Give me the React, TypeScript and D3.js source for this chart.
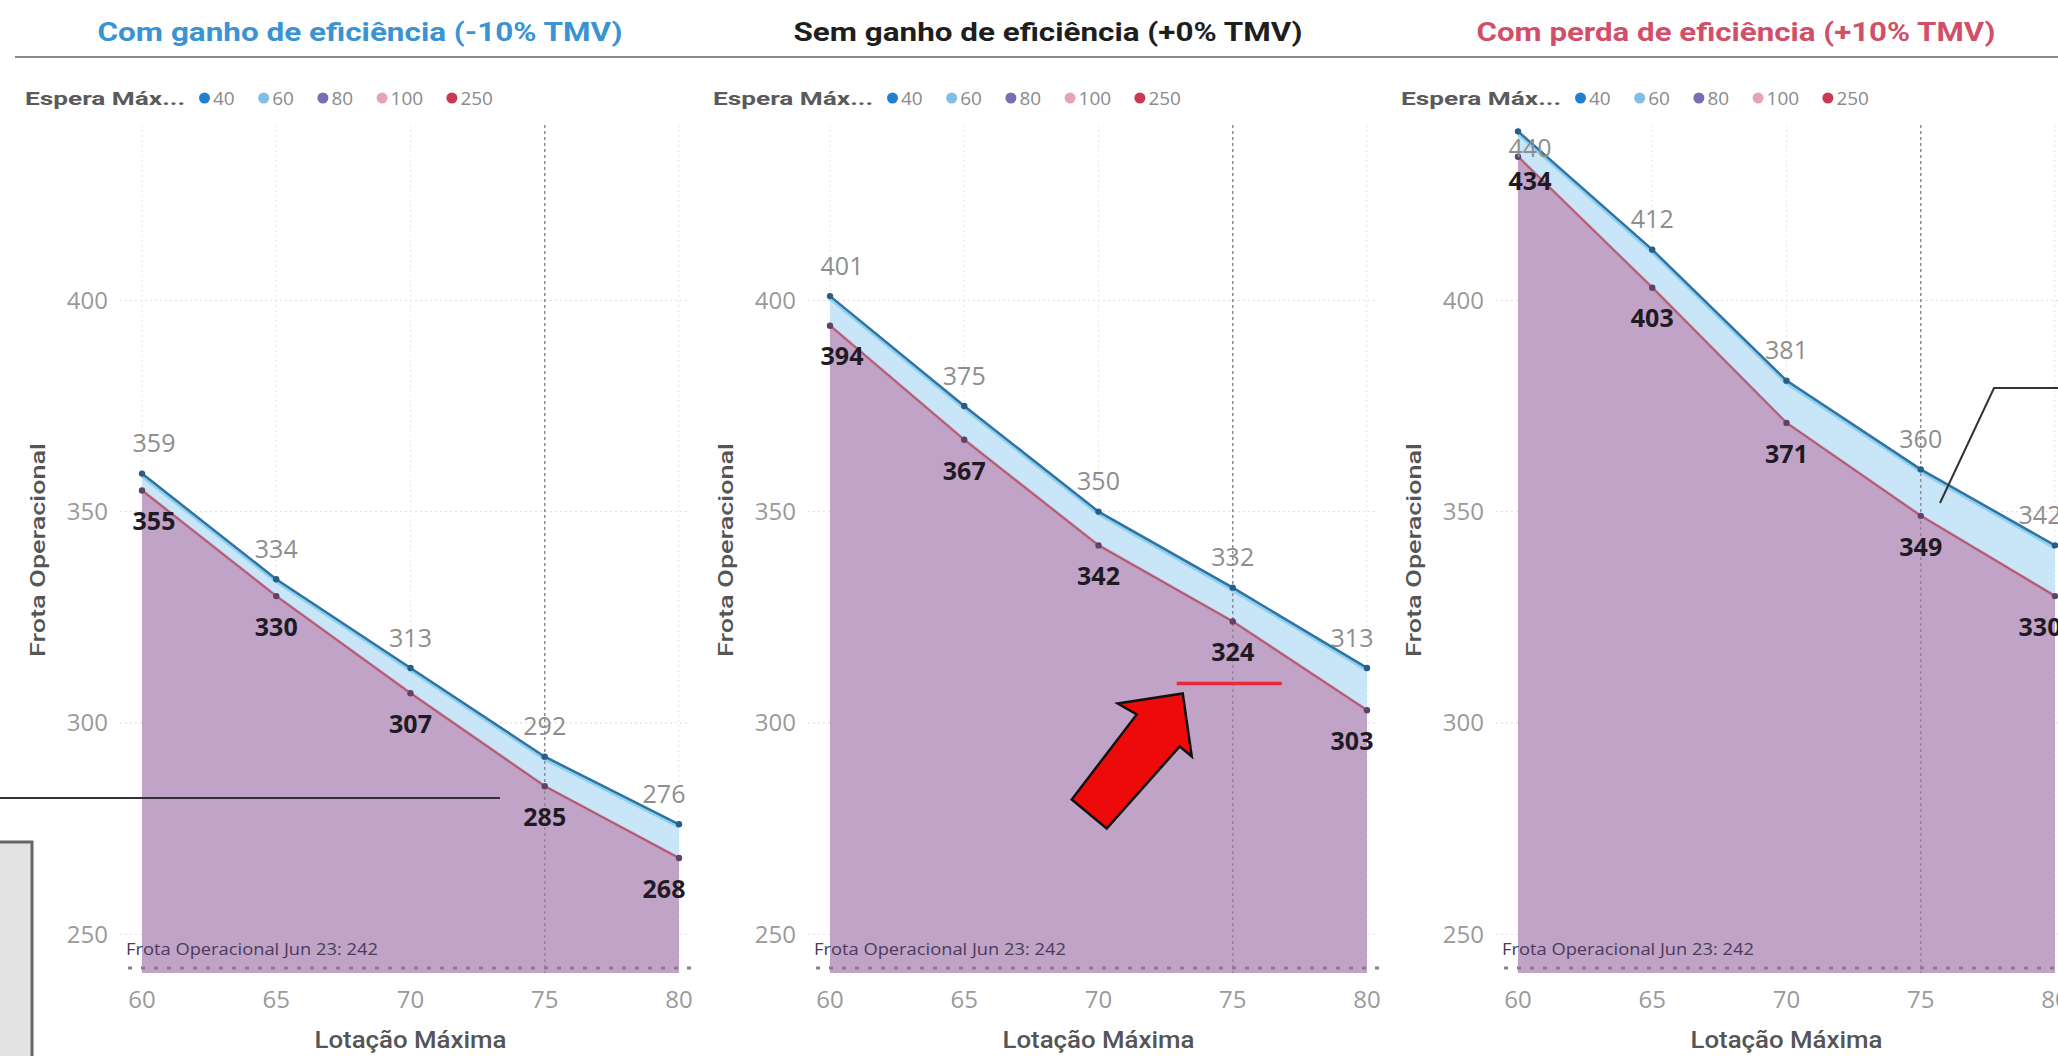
import React from "react";
import * as d3 from "d3";

// ---------- data ----------
const lotacao = [60, 65, 70, 75, 80];
const panelTitles = [
  "Com ganho de eficiência (-10% TMV)",
  "Sem ganho de eficiência (+0% TMV)",
  "Com perda de eficiência (+10% TMV)",
];
const titleColors = ["#3a93d3", "#1e1e1e", "#d24f6a"];
// Espera Máx 40 (top line) and 250 (bottom line), per scenario
const espera40Ganho = [359, 334, 313, 292, 276];
const espera250Ganho = [355, 330, 307, 285, 268];
const espera40Sem = [401, 375, 350, 332, 313];
const espera250Sem = [394, 367, 342, 324, 303];
const espera40Perda = [440, 412, 381, 360, 342];
const espera250Perda = [434, 403, 371, 349, 330];
const topSeries = [espera40Ganho, espera40Sem, espera40Perda];
const bottomSeries = [espera250Ganho, espera250Sem, espera250Perda];
const legendKeys = ["40", "60", "80", "100", "250"];
const legendColors = ["#1f7fd0", "#80bde8", "#7b6cb6", "#e8a3b2", "#c83a52"];
const yTicks = [250, 300, 350, 400];
const frotaJun23 = 242;

// ---------- layout ----------
const W = 2058;
const H = 1056;
const PANEL_DX = 688;
const NUM_FONT = "'Open Sans', 'Noto Sans', sans-serif";
const HEAD_FONT = "Roboto, 'Noto Sans', sans-serif";

const y = d3.scaleLinear().domain([240.8, 441.5]).range([973, 125]);

function legendLayout(startX: number) {
  const digitW = 10.6;
  const gap = 24;
  let cur = startX;
  return legendKeys.map((k) => {
    const dot = cur + 5.5;
    const tx = cur + 14;
    cur = tx + k.length * digitW + gap;
    return { k, dot, tx };
  });
}

function Panel({ p }: { p: number }) {
  const x = d3.scaleLinear().domain([60, 80]).range([142 + PANEL_DX * p, 679 + PANEL_DX * p]);
  const top = topSeries[p];
  const bot = bottomSeries[p];
  const topPts = lotacao.map((l, i) => [l, top[i]] as [number, number]);
  const botPts = lotacao.map((l, i) => [l, bot[i]] as [number, number]);
  const area = d3
    .area<[number, number]>()
    .x((d) => x(d[0]))
    .y0(y(y.domain()[0]))
    .y1((d) => y(d[1]));
  const line = d3
    .line<[number, number]>()
    .x((d) => x(d[0]))
    .y((d) => y(d[1]));
  const [x0, x1] = x.range();
  const yBottom = y(y.domain()[0]);
  const yTop = y.range()[1];
  const labelDx = (i: number) => (i === 0 ? 12 : i === lotacao.length - 1 ? -15 : 0);
  const legendX = 25 + PANEL_DX * p;
  const legendItems = legendLayout(legendX + 174);

  return (
    <g>
      {/* title */}
      <text
        x={360 + PANEL_DX * p}
        y={41}
        textAnchor="middle"
        fontFamily={HEAD_FONT}
        fontWeight={700}
        fontSize={25}
        fill={titleColors[p]}
        textLength={[525, 509, 519][p]}
        lengthAdjust="spacingAndGlyphs"
      >
        {panelTitles[p]}
      </text>
      {/* legend */}
      <text
        x={legendX}
        y={105}
        fontFamily={HEAD_FONT}
        fontWeight={700}
        fontSize={19}
        fill="#5a5a5a"
        textLength={160}
        lengthAdjust="spacingAndGlyphs"
      >
        Espera Máx...
      </text>
      {legendItems.map((it, i) => (
        <g key={it.k}>
          <circle cx={it.dot} cy={98} r={5.5} fill={legendColors[i]} />
          <text x={it.tx} y={105} fontFamily={NUM_FONT} fontSize={19} fill="#8a8a8a">
            {it.k}
          </text>
        </g>
      ))}
      {/* gridlines */}
      {yTicks.map((t) => (
        <line key={t} x1={x0 - 22} x2={x1 + 9} y1={y(t)} y2={y(t)} stroke="#e2e2e2" strokeWidth={1.2} strokeDasharray="2 3" />
      ))}
      {lotacao
        .filter((l) => l !== 75)
        .map((l) => (
          <line key={l} x1={x(l)} x2={x(l)} y1={yTop} y2={yBottom} stroke="#ececec" strokeWidth={1.2} strokeDasharray="2 3" />
        ))}
      {/* areas */}
      <path d={area(topPts) || ""} fill="#c8e6f7" />
      <path d={area(botPts) || ""} fill="#c0a3c7" />
      {/* x = 75 reference line */}
      <line x1={x(75)} x2={x(75)} y1={yTop} y2={yBottom} stroke="#8f8a95" strokeWidth={1.5} strokeDasharray="3 3" />
      {/* baseline Jun 23 */}
      <line
        x1={x0 - 14}
        x2={x1 + 12}
        y1={y(frotaJun23)}
        y2={y(frotaJun23)}
        stroke="#8c7b98"
        strokeWidth={3}
        strokeDasharray="4 9"
      />
      <text
        x={x0 - 16}
        y={955}
        fontFamily={NUM_FONT}
        fontSize={16}
        fill="#4a3b57"
        textLength={252}
        lengthAdjust="spacingAndGlyphs"
      >
        {`Frota Operacional Jun 23: ${frotaJun23}`}
      </text>
      {/* lines */}
      <path d={line(topPts) || ""} fill="none" stroke="#8fd0f2" strokeWidth={4} transform="translate(0,2)" />
      <path d={line(topPts) || ""} fill="none" stroke="#31739f" strokeWidth={2.5} />
      <path d={line(botPts) || ""} fill="none" stroke="#d87890" strokeWidth={3} />
      <path d={line(botPts) || ""} fill="none" stroke="#6f5478" strokeWidth={1} />
      {topPts.map((d, i) => (
        <circle key={"t" + i} cx={x(d[0])} cy={y(d[1])} r={3.2} fill="#2a5d86" />
      ))}
      {botPts.map((d, i) => (
        <circle key={"b" + i} cx={x(d[0])} cy={y(d[1])} r={3.2} fill="#5e4268" />
      ))}
      {/* data labels */}
      {topPts.map((d, i) => {
        const py = y(d[1]);
        const ly = py - 30 < yTop - 10 ? py + 17 : py - 30;
        return (
          <text
            key={"lt" + i}
            x={x(d[0]) + labelDx(i)}
            y={ly}
            dy="0.35em"
            textAnchor="middle"
            fontFamily={NUM_FONT}
            fontSize={25}
            fill="#8e8e8e"
          >
            {d[1]}
          </text>
        );
      })}
      {botPts.map((d, i) => (
        <text
          key={"lb" + i}
          x={x(d[0]) + labelDx(i)}
          y={y(d[1]) + (p === 2 && i === 0 ? 25 : 31)}
          dy="0.35em"
          textAnchor="middle"
          fontFamily={NUM_FONT}
          fontWeight={700}
          fontSize={25}
          fill="#1f1a24"
        >
          {d[1]}
        </text>
      ))}
      {/* y axis */}
      {yTicks.map((t) => (
        <text key={"yt" + t} x={x0 - 34} y={y(t)} dy="0.35em" textAnchor="end" fontFamily={NUM_FONT} fontSize={24} fill="#9a9a9a">
          {t}
        </text>
      ))}
      <text
        transform={`translate(${x0 - 104},550) rotate(-90)`}
        textAnchor="middle"
        dy="0.35em"
        fontFamily={HEAD_FONT}
        fontWeight={500}
        fontSize={21}
        fill="#555"
        textLength={214}
        lengthAdjust="spacingAndGlyphs"
      >
        Frota Operacional
      </text>
      {/* x axis */}
      {lotacao.map((l) => (
        <text key={"xt" + l} x={x(l)} y={1000} dy="0.35em" textAnchor="middle" fontFamily={NUM_FONT} fontSize={24} fill="#9a9a9a">
          {l}
        </text>
      ))}
      <text
        x={x(70)}
        y={1040}
        dy="0.35em"
        textAnchor="middle"
        fontFamily={HEAD_FONT}
        fontWeight={500}
        fontSize={24}
        fill="#555"
        textLength={192}
        lengthAdjust="spacingAndGlyphs"
      >
        Lotação Máxima
      </text>
    </g>
  );
}

function Annotations() {
  // red arrow anchored to the 324 point (Lotação 75) of the middle panel
  const xMid = d3.scaleLinear().domain([60, 80]).range([142 + PANEL_DX, 679 + PANEL_DX]);
  const ax = xMid(75);
  const ay = y(espera250Sem[3]);
  const arrow: [number, number][] = [
    [-50, 72],
    [-41, 135],
    [-53, 125],
    [-126, 207],
    [-161, 178],
    [-96, 93],
    [-115, 82],
  ];
  const arrowPath = "M" + arrow.map(([dx, dy]) => `${ax + dx},${ay + dy}`).join("L") + "Z";
  return (
    <g>
      <line x1={ax - 56} x2={ax + 49} y1={ay + 62} y2={ay + 62} stroke="#e8283c" strokeWidth={3.5} />
      <path d={arrowPath} fill="#ee0a0a" stroke="#111" strokeWidth={2.5} strokeLinejoin="miter" />
      {/* left panel black callout line */}
      <line x1={0} x2={500} y1={798} y2={798} stroke="#333" strokeWidth={2} />
      {/* grey box at bottom-left */}
      <rect x={-4} y={842} width={36} height={230} fill="#e3e3e3" stroke="#666" strokeWidth={3} />
      {/* right panel callout line */}
      <polyline points="1940,503 1994,388 2060,388" fill="none" stroke="#333" strokeWidth={2} />
    </g>
  );
}

export default function App() {
  return (
    <>
      <style>{`html,body{margin:0;padding:0;background:#fff;overflow:hidden}`}</style>
      <svg width={W} height={H} viewBox={`0 0 ${W} ${H}`} style={{ display: "block", background: "#fff" }}>
        {/* header separator */}
        <line x1={15} x2={W} y1={57} y2={57} stroke="#8a8a8a" strokeWidth={2} />
        {[0, 1, 2].map((p) => (
          <Panel key={p} p={p} />
        ))}
        <Annotations />
      </svg>
    </>
  );
}
